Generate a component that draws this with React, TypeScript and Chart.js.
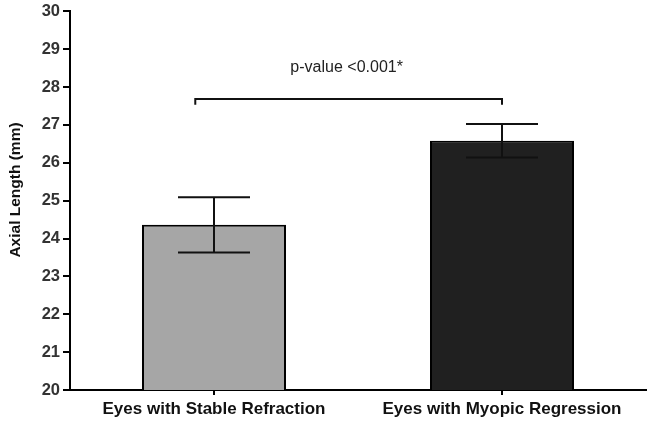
import React, { useEffect, useRef } from "react";
import { Chart, registerables } from "chart.js";

Chart.register(...registerables);

const categories = ["Eyes with Stable Refraction", "Eyes with Myopic Regression"];
const meanValues = [24.36, 26.58];
const errorValues = [0.73, 0.44];
const barColors = ["#a6a6a6", "#202020"];
const yTicks = [20, 21, 22, 23, 24, 25, 26, 27, 28, 29, 30];
const yTitle = "Axial Length (mm)";
const pLabel = "p-value <0.001*";
const bracketLevel = 27.68;
const bracketDrop = 0.15;
const bracketStart = -0.065;
const bracketEnd = 1.0;

const overlayPlugin = {
  id: "overlay",
  afterDatasetsDraw(chart: any) {
    const ctx = chart.ctx;
    const x = chart.scales.x;
    const y = chart.scales.y;
    ctx.save();
    const meta = chart.getDatasetMeta(0);
    ctx.strokeStyle = "#111";
    ctx.lineWidth = 2;
    meta.data.forEach((bar: any, i: number) => {
      const cx = bar.x;
      const half = bar.width * 0.25;
      const yTop = y.getPixelForValue(meanValues[i] + errorValues[i]);
      const yBot = y.getPixelForValue(meanValues[i] - errorValues[i]);
      ctx.beginPath();
      ctx.moveTo(cx, yTop);
      ctx.lineTo(cx, yBot);
      ctx.moveTo(cx - half, yTop);
      ctx.lineTo(cx + half, yTop);
      ctx.moveTo(cx - half, yBot);
      ctx.lineTo(cx + half, yBot);
      ctx.stroke();
    });
    const bx0 = x.getPixelForValue(bracketStart);
    const bx1 = x.getPixelForValue(bracketEnd);
    const by = y.getPixelForValue(bracketLevel);
    const byd = y.getPixelForValue(bracketLevel - bracketDrop);
    ctx.beginPath();
    ctx.moveTo(bx0, byd);
    ctx.lineTo(bx0, by);
    ctx.lineTo(bx1, by);
    ctx.lineTo(bx1, byd);
    ctx.stroke();
    ctx.fillStyle = "#222";
    ctx.font = "16px 'Liberation Sans', Arial, sans-serif";
    ctx.textAlign = "center";
    ctx.textBaseline = "middle";
    ctx.fillText(pLabel, (bx0 + bx1) / 2 - 2, by - 32);
    ctx.translate(16, 190);
    ctx.rotate(-Math.PI / 2);
    ctx.font = "bold 15.5px 'Liberation Sans', Arial, sans-serif";
    ctx.fillStyle = "#111";
    ctx.fillText(yTitle, 0, 0);
    ctx.restore();
  },
};

export default function App() {
  const ref = useRef<HTMLCanvasElement | null>(null);
  useEffect(() => {
    if (!ref.current) return;
    const chart = new Chart(ref.current, {
      type: "bar",
      data: {
        labels: categories,
        datasets: [
          {
            data: meanValues,
            backgroundColor: barColors,
            borderColor: "#000",
            borderWidth: 2,
            barPercentage: 0.5,
            categoryPercentage: 1,
          },
        ],
      },
      options: {
        animation: false,
        responsive: false,
        devicePixelRatio: 1,
        layout: { padding: { top: 9, right: 3, left: 0, bottom: 0 } },
        plugins: { legend: { display: false }, tooltip: { enabled: false } },
        scales: {
          x: {
            offset: true,
            afterFit: (s: any) => {
              s.height = 32;
            },
            grid: {
              offset: false,
              drawOnChartArea: false,
              drawTicks: true,
              tickLength: 5,
              color: "#000",
              lineWidth: 2,
            },
            border: { display: true, color: "#000", width: 2 },
            ticks: {
              color: "#111",
              font: { family: "'Liberation Sans', Arial, sans-serif", size: 17, weight: "bold" },
              padding: 4,
              maxRotation: 0,
            },
          },
          y: {
            min: 20,
            max: 30,
            afterFit: (s: any) => {
              s.width = 70;
            },
            afterBuildTicks: (s: any) => {
              s.ticks = yTicks.map((v) => ({ value: v }));
            },
            grid: {
              drawOnChartArea: false,
              drawTicks: true,
              tickLength: 7,
              color: "#000",
              lineWidth: 2,
            },
            border: { display: true, color: "#000", width: 2 },
            ticks: {
              color: "#333",
              font: { family: "'Liberation Sans', Arial, sans-serif", size: 16.5, weight: "bold", lineHeight: 1 },
              padding: 3,
            },
          },
        },
      },
      plugins: [overlayPlugin],
    });
    return () => chart.destroy();
  }, []);
  return (
    <div style={{ position: "fixed", left: 0, top: 0, width: 649, height: 422, background: "#fff" }}>
      <canvas ref={ref} width={649} height={422} />
    </div>
  );
}
